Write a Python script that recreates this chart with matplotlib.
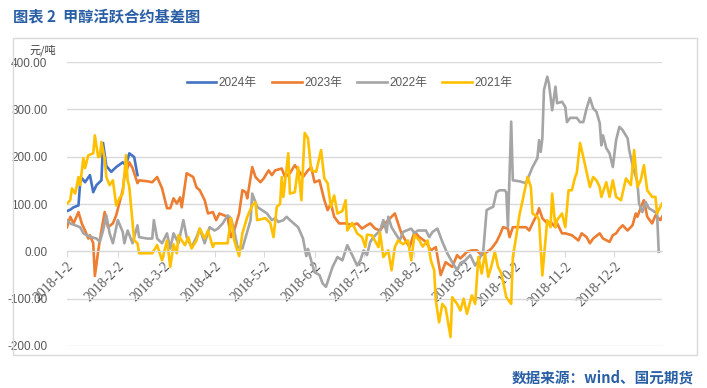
import numpy as np
import pandas as pd
import matplotlib
matplotlib.use("Agg")
import matplotlib.pyplot as plt
from matplotlib.patches import Rectangle

plt.rcParams['font.family'] = ['Liberation Sans', 'Noto Sans CJK SC', 'DejaVu Sans']

base = pd.Timestamp('2018-01-02')

# day offsets from 2018-01-02 and basis values (yuan/ton)
days_2024 = [0, 2, 4, 7, 8, 9, 11, 14, 16, 18, 21, 22, 24, 27, 30, 34, 36, 38, 41, 43]
vals_2024 = [85, 88, 93, 97, 144, 155, 146, 161, 125, 140, 150, 229, 180, 168, 178, 188, 182, 207, 199, 161]

days_2023 = [0, 2, 4, 7, 9, 11, 13, 14, 16, 17, 19, 21, 23, 25, 28, 30, 34, 35, 38, 40, 43, 44,
             49, 52, 55, 58, 61, 63, 65, 67, 69, 70, 73, 77, 79, 81, 84, 86, 89, 91, 93, 98,
             100, 102, 105, 107, 109, 110, 113, 115, 118, 120, 123, 125, 127, 131, 133, 136, 139,
             144, 147, 149, 151, 154, 157, 159, 161, 163, 166, 170, 174, 177, 180, 183, 185, 188,
             191, 194, 200, 202, 204, 207, 209, 212, 215, 219, 222, 225, 228, 231, 235, 238, 240,
             244, 247, 250, 253, 256, 259, 262, 264, 266, 269, 270, 272, 276, 280, 282, 284, 287,
             288, 290, 293, 295, 298, 299, 302, 304, 308, 312, 314, 317, 319, 321, 325, 327, 331,
             333, 335, 337, 339, 342, 345, 347, 348, 351, 352, 354, 357, 359, 362, 363]
vals_2023 = [51, 73, 59, 83, 59, 44, 27, 34, 17, -52, 0, 44, 83, 51, 59, 76, 129, 157, 188, 176, 144, 150,
             148, 146, 157, 133, 91, 91, 112, 101, 114, 93, 165, 157, 135, 129, 108, 80, 83, 66, 80, 73,
             30, 44, 80, 129, 125, 112, 178, 157, 146, 154, 171, 161, 171, 175, 157, 165, 182,
             157, 171, 178, 146, 150, 108, 87, 101, 73, 59, 59, 55, 59, 48, 55, 59, 48,
             44, 59, 80, 59, 38, 20, 9, 41, 30, 20, 2, 9, -50, -23, -33, -8, -15,
             -1, 2, 2, -8, -2, 6, 20, 34, 51, 48, 30, 51, 51, 51, 44, 59, 80,
             91, 70, 59, 62, 51, 59, 38, 38, 34, 23, 38, 30, 17, 27, 38, 27, 20,
             34, 38, 48, 55, 44, 55, 80, 73, 101, 108, 73, 59, 76, 66, 73]

days_2022 = [0, 2, 8, 10, 12, 15, 18, 20, 22, 24, 26, 28, 31, 34, 35, 37, 40, 43, 44, 49, 52, 53,
             55, 58, 61, 63, 65, 68, 71, 73, 76, 79, 81, 84, 87, 90, 92, 95, 98, 100, 102, 104,
             107, 109, 112, 113, 116, 119, 122, 125, 127, 129, 132, 134, 136, 141, 144, 146, 147,
             149, 151, 154, 156, 158, 162, 165, 168, 171, 174, 177, 179, 181, 183, 185, 187, 191,
             193, 195, 196, 198, 203, 205, 210, 212, 214, 219, 221, 223, 226, 229, 232, 235, 238,
             240, 243, 246, 249, 251, 254, 256, 258, 260, 262, 264, 267, 268, 269, 271, 272, 276,
             280, 282, 284, 287, 288, 289, 290, 291, 293, 294, 296, 298, 299, 302, 304, 305, 307,
             311, 313, 315, 317, 319, 321, 323, 325, 326, 327, 329, 331, 333, 335, 337, 339, 342,
             343, 345, 348, 349, 351, 353, 355, 357, 360, 361]
vals_2022 = [66, 59, 51, 38, 34, 30, 27, 20, 44, 76, 38, 17, 66, 41, 17, 44, 17, 55, 30, 27, 27, 66,
             27, 17, 38, 6, 38, 17, 66, 30, 9, 30, 48, 17, 51, 44, 48, 59, 76, 70, 44, 9,
             6, 30, 66, 122, 94, 87, 80, 66, 70, 62, 66, 73, 66, 51, 27, -10, 5,
             -20, -44, -50, -68, -75, -33, -12, -19, 13, -8, -30, -19, 2, -8, 20, 30, 44,
             66, 40, 73, 51, 23, 41, 48, 38, 44, 44, 30, 41, 48, 20, -4, -23, -40,
             -25, -19, -8, -30, -20, 2, 87, 91, 94, 125, 129, 129, 125, 51, 274, 150, 148,
             144, 161, 178, 197, 235, 210, 239, 341, 369, 355, 298, 348, 313, 316, 305, 273, 282,
             282, 273, 273, 302, 324, 302, 295, 271, 224, 245, 218, 207, 178, 235, 263, 256, 239,
             214, 182, 146, 101, 83, 104, 91, 87, 80, -1]

days_2021 = [0, 2, 3, 5, 7, 8, 10, 11, 13, 16, 17, 19, 20, 21, 23, 24, 26, 28, 30, 32, 34, 36,
             37, 38, 40, 41, 43, 44, 52, 55, 58, 60, 61, 63, 65, 67, 68, 70, 72, 74, 76, 79,
             81, 84, 86, 89, 90, 93, 98, 100, 102, 105, 107, 110, 113, 115, 116, 121, 124, 126,
             128, 130, 131, 132, 135, 136, 139, 141, 143, 145, 147, 149, 152, 155, 157, 159, 161,
             163, 165, 168, 170, 171, 174, 177, 180, 182, 183, 186, 190, 191, 193, 196, 198, 200,
             202, 205, 208, 210, 212, 215, 217, 220, 222, 224, 225, 227, 229, 231, 234, 235, 238,
             240, 242, 244, 247, 249, 251, 253, 255, 257, 259, 261, 263, 265, 268, 271, 272, 274,
             276, 281, 283, 284, 287, 288, 290, 293, 295, 296, 298, 299, 302, 304, 306, 308, 310,
             311, 313, 315, 319, 321, 323, 325, 326, 329, 331, 333, 335, 338, 341, 344, 346, 348,
             350, 352, 354, 357, 359, 360, 363]
vals_2021 = [101, 108, 133, 122, 157, 140, 197, 176, 203, 207, 245, 199, 200, 231, 195, 157, 140, 150, 97, 112, 122, 203,
             150, 136, 59, 23, 17, -4, -4, 13, -19, 9, 23, -33, 15, -4, 34, 23, 13, 30, 6, 23,
             48, 27, 44, 9, 17, 17, 17, 70, 23, -10, 38, 73, 97, 104, 66, 70, 60, 30,
             94, 100, 157, 115, 207, 122, 125, 178, 108, 250, 239, 171, 168, 214, 154, 144, 94,
             118, 80, 85, 108, 44, 60, 38, 30, 9, 35, 34, 9, 40, -12, 2, -40, 9,
             23, 15, 23, -19, 34, 23, 10, 23, -19, -40, -104, -150, -111, -120, -181, -97, -111,
             -125, -100, -132, -93, -111, -12, -47, -4, -54, -30, -1, -33, -47, -97, -111, -12, 30,
             76, 157, 136, 80, 73, 66, -51, 66, 51, 122, 51, 66, 80, 51, 129, 129, 157,
             165, 229, 199, 136, 157, 150, 136, 115, 146, 115, 150, 115, 108, 154, 140, 214, 136,
             150, 182, 129, 115, 115, 80, 101]

series = [
    ('2024年', days_2024, vals_2024, '#4472C4'),
    ('2023年', days_2023, vals_2023, '#ED7D31'),
    ('2022年', days_2022, vals_2022, '#A5A5A5'),
    ('2021年', days_2021, vals_2021, '#FFC000'),
]

tick_months = list(range(1, 13))
tick_dates = [pd.Timestamp(2018, m, 2) for m in tick_months]
tick_labels = [f"2018-{m}-2" for m in tick_months]

fig = plt.figure(figsize=(7.07, 3.88), dpi=100)
ax = fig.add_axes([67 / 707, 1 - 346 / 388, (662 - 67) / 707, (346 - 62) / 388])

for name, d, v, c in series:
    dates = base + pd.to_timedelta(d, unit='D')
    ax.plot(dates, v, color=c, linewidth=1.9, label=name, solid_joinstyle='round')

ax.set_xlim(base, base + pd.Timedelta(days=363))
ax.set_ylim(-200, 400)
ax.set_yticks(np.arange(-200, 401, 100))
ax.set_yticklabels([f"{y:.2f}" for y in np.arange(-200, 401, 100)])
ax.yaxis.grid(True, color='#D9D9D9', linewidth=1)
ax.set_axisbelow(True)

for s in ['left', 'right', 'top']:
    ax.spines[s].set_visible(False)
ax.spines['bottom'].set_position(('data', 0))
ax.spines['bottom'].set_color('#D9D9D9')

ax.set_xticks(tick_dates)
ax.set_xticklabels(tick_labels, rotation=45, ha='right', va='top', rotation_mode='anchor',
                   family='Liberation Serif', fontsize=9.8, color='#595959')
ax.tick_params(axis='x', length=4, color='#D9D9D9', pad=2)
ax.tick_params(axis='y', length=0, pad=14, labelsize=8.5, labelcolor='#595959')

leg = ax.legend(loc='upper center', bbox_to_anchor=(0.475, 0.985), ncol=4, frameon=False,
                fontsize=8.5, handlelength=2.5, handletextpad=0.2, columnspacing=1.3)
for t in leg.get_texts():
    t.set_color('#595959')

fig.text(43 / 707, 1 - 50 / 388, '元/吨', ha='center', va='center', fontsize=8,
         color='#404040', family=['Noto Sans CJK SC'])

fig.patches.append(Rectangle((13 / 707, 1 - 355 / 388), (697 - 13) / 707, (355 - 38) / 388,
                             transform=fig.transFigure, fill=False, edgecolor='#D9D9D9',
                             linewidth=1))

fig.text(13 / 707, 1 - 16 / 388, '图表 2  甲醇活跃合约基差图', ha='left', va='center',
         fontsize=11, fontweight='bold', color='#2A5FA5',
         family=['Noto Sans CJK SC', 'DejaVu Sans'])
fig.text(694 / 707, 1 - 378 / 388, '数据来源：wind、国元期货', ha='right', va='center',
         fontsize=10.5, fontweight='bold', color='#2A5FA5',
         family=['Noto Sans CJK SC', 'DejaVu Sans'])

fig.savefig('out.png', dpi=100)
